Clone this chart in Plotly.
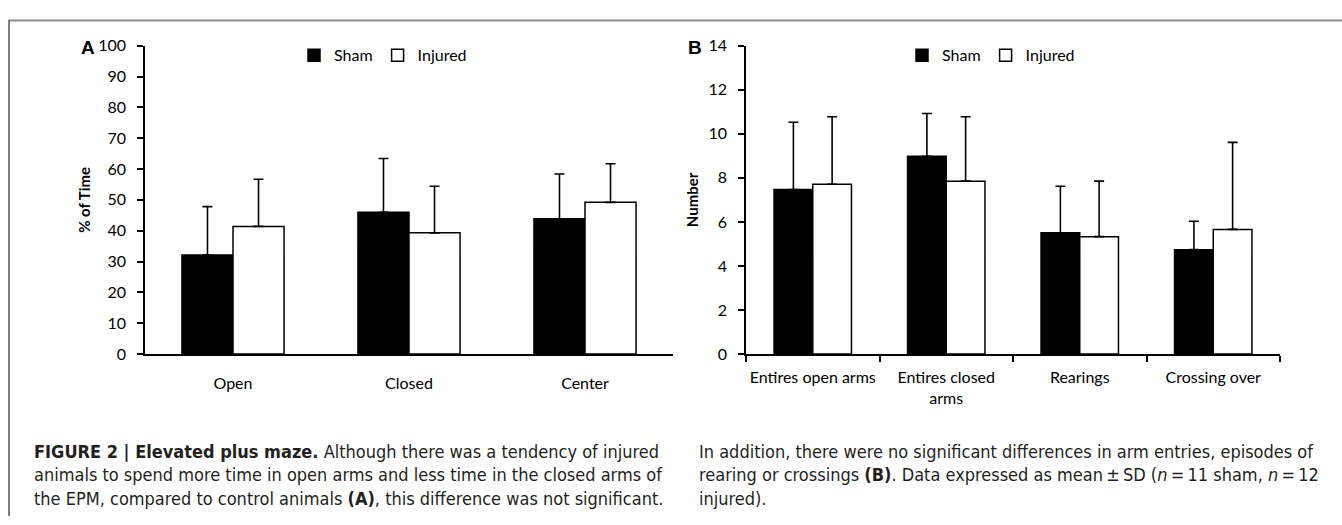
import plotly.graph_objects as go

# ---- data ----
cats_a = ["Open", "Closed", "Center"]
sham_a = [32.1, 46.0, 43.9]
sham_a_sd = [15.7, 17.4, 14.5]
inj_a = [41.4, 39.3, 49.2]
inj_a_sd = [15.3, 15.1, 12.5]

cats_b = ["Entires open arms", "Entires closed arms", "Rearings", "Crossing over"]
ticklabels_b = ["Entires open arms", "Entires closed<br>arms", "Rearings", "Crossing over"]
sham_b = [7.47, 8.98, 5.51, 4.74]
sham_b_sd = [3.05, 1.94, 2.11, 1.29]
inj_b = [7.71, 7.85, 5.33, 5.66]
inj_b_sd = [3.06, 2.92, 2.52, 3.95]

yticks_a = list(range(0, 101, 10))
yticks_b = list(range(0, 15, 2))

W, H = 1342, 525
FONT = "Lato, Open Sans, sans-serif"

def px_x(p):
    return p / W

def px_y(p):
    return 1 - p / H

fig = go.Figure()

def add_bars(cats, vals, sd, name, color, xa, ya, legend, show):
    fig.add_trace(go.Bar(
        x=cats, y=vals, name=name,
        marker=dict(color=color, line=dict(color="black", width=1.5)),
        error_y=dict(type="data", symmetric=False, array=sd,
                     arrayminus=[0] * len(sd), color="black",
                     thickness=1.6, width=5),
        xaxis=xa, yaxis=ya, legend=legend, showlegend=show,
    ))

add_bars(cats_a, sham_a, sham_a_sd, "Sham", "black", "x", "y", "legend", True)
add_bars(cats_a, inj_a, inj_a_sd, "Injured", "white", "x", "y", "legend", True)
add_bars(cats_b, sham_b, sham_b_sd, "Sham", "black", "x2", "y2", "legend2", True)
add_bars(cats_b, inj_b, inj_b_sd, "Injured", "white", "x2", "y2", "legend2", True)

ydom = [px_y(357), px_y(37)]
axis_common = dict(showgrid=False, zeroline=False, showline=True,
                   linecolor="black", linewidth=1.6,
                   tickfont=dict(family=FONT, size=16, color="black"))

fig.update_layout(
    width=W, height=H, margin=dict(l=0, r=0, t=0, b=0),
    paper_bgcolor="white", plot_bgcolor="white",
    barmode="group", bargap=0.42, bargroupgap=0,
    font=dict(family=FONT, color="black"),
    xaxis=dict(domain=[px_x(145), px_x(673)], anchor="y", tickangle=0,
               ticks="", ticklabelstandoff=14, **axis_common),
    yaxis=dict(domain=ydom, anchor="x", range=[0, 100],
               tickvals=yticks_a, ticks="outside", ticklen=6, tickwidth=1.6,
               tickcolor="black", ticklabelstandoff=8,
               title=dict(text="<b>% of Time</b>", standoff=4,
                          font=dict(family=FONT, size=15, color="black")),
               **axis_common),
    xaxis2=dict(domain=[px_x(746), px_x(1280)], anchor="y2", tickangle=0,
                tickvals=cats_b, ticktext=ticklabels_b,
                ticks="outside", tickson="boundaries", ticklen=6, tickwidth=1.6,
                tickcolor="black", ticklabelstandoff=8, **axis_common),
    yaxis2=dict(domain=ydom, anchor="x2", range=[0, 14],
                tickvals=yticks_b, ticks="outside", ticklen=6, tickwidth=1.6,
                tickcolor="black", ticklabelstandoff=8,
                title=dict(text="<b>Number</b>", standoff=6,
                           font=dict(family=FONT, size=15, color="black")),
                **axis_common),
    legend=dict(orientation="h", x=px_x(294), y=px_y(47), xanchor="left",
                yanchor="middle", itemwidth=30, bgcolor="rgba(0,0,0,0)",
                font=dict(family=FONT, size=16, color="black")),
    legend2=dict(orientation="h", x=px_x(902), y=px_y(47), xanchor="left",
                 yanchor="middle", itemwidth=30, bgcolor="rgba(0,0,0,0)",
                 font=dict(family=FONT, size=16, color="black")),
)

# frame lines
fig.add_shape(type="line", xref="paper", yref="paper",
              x0=px_x(8), x1=1, y0=px_y(11), y1=px_y(11),
              line=dict(color="#8a8a8a", width=2))
fig.add_shape(type="line", xref="paper", yref="paper",
              x0=px_x(9), x1=px_x(9), y0=px_y(11), y1=0,
              line=dict(color="#555555", width=1.5))

# panel letters
for letter, xpx in (("A", 88), ("B", 695)):
    fig.add_annotation(text=f"<b>{letter}</b>", xref="paper", yref="paper",
                       x=px_x(xpx), y=px_y(39), showarrow=False,
                       xanchor="center", yanchor="middle",
                       font=dict(family="Liberation Sans, Arial, sans-serif",
                                 size=19, color="black"))

CAP = "Liberation Sans Narrow, DejaVu Sans Condensed, Arial Narrow, sans-serif"
cap_left = ("<b>FIGURE 2 | Elevated plus maze.</b> Although there was a tendency of injured<br>"
            "animals to spend more time in open arms and less time in the closed arms of<br>"
            "the EPM, compared to control animals <b>(A)</b>, this difference was not significant.")
cap_right = ("In addition, there were no significant differences in arm entries, episodes of<br>"
             "rearing or crossings <b>(B)</b>. Data expressed as mean\u2009\u00b1\u2009SD "
             "(<i>n</i>\u2009=\u200911 sham, <i>n</i>\u2009=\u200912<br>"
             "injured).")
for txt, xpx in ((cap_left, 32), (cap_right, 697)):
    fig.add_annotation(text=txt, xref="paper", yref="paper",
                       x=px_x(xpx), y=px_y(445), showarrow=False,
                       xanchor="left", yanchor="top", align="left",
                       font=dict(family=CAP, size=18, color="#231f20"))

fig.write_html("out.html")
